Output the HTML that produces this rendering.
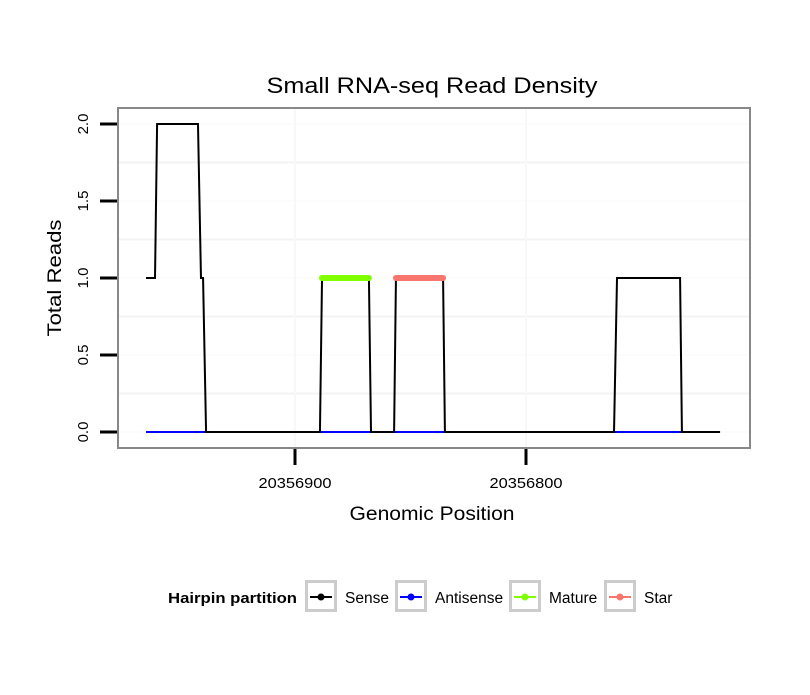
<!DOCTYPE html>
<html><head><meta charset="utf-8"><style>
body{margin:0;background:#fff;}
svg text{font-family:"Liberation Sans",sans-serif;}
</style></head><body>
<svg id="c" width="810" height="690" xmlns="http://www.w3.org/2000/svg">
<rect width="810" height="690" fill="#fff"/>
<text x="432" y="93" font-size="22" text-anchor="middle" textLength="331" lengthAdjust="spacingAndGlyphs">Small RNA-seq Read Density</text>
<g id="grid"></g>
<g id="series"></g>
<rect x="118" y="108" width="632" height="340" fill="none" stroke="#888" stroke-width="2"/>
<g id="axes"></g>
<text x="432" y="520" font-size="19" text-anchor="middle" textLength="165" lengthAdjust="spacingAndGlyphs">Genomic Position</text>
<text transform="translate(61,278) rotate(-90)" font-size="19" text-anchor="middle" textLength="117" lengthAdjust="spacingAndGlyphs">Total Reads</text>
<g>
<text x="168" y="603" font-size="15" font-weight="bold" textLength="129" lengthAdjust="spacingAndGlyphs">Hairpin partition</text>
<g id="legend"></g>
</g>
</svg>
<script>
const xPos = [20356964.5,20356960.6,20356959.7,20356942.0,20356940.7,20356939.8,20356938.5,20356889.2,20356888.3,20356868.0,20356867.1,20356857.1,20356856.3,20356835.9,20356835.1,20356761.9,20356760.6,20356733.3,20356732.5,20356716.0];
const senseVals = [1,1,2,2,1,1,0,0,1,1,0,0,1,1,0,0,1,1,0,0];
const antisenseX = [20356964.5,20356716.0];
const antisenseVals = [0,0];
const matureX = [20356888.3,20356868.0];
const matureVals = [1,1];
const starX = [20356856.3,20356835.9];
const starVals = [1,1];
const yTicks = [0,0.5,1,1.5,2];
const yTickLabels = ["0.0","0.5","1.0","1.5","2.0"];
const xTicks = [20356900,20356800];
const xTickLabels = ["20356900","20356800"];
const legendNames = ["Sense","Antisense","Mature","Star"];
const legendColors = ["#000","#0000ff","#7fff00","#f8766d"];

const NS="http://www.w3.org/2000/svg";
function X(p){return 295+(20356900-p)*2.31;}
function Y(v){return 432-v*154;}
function mk(tag,attrs,parent){const e=document.createElementNS(NS,tag);for(const k in attrs)e.setAttribute(k,attrs[k]);parent.appendChild(e);return e;}
const grid=document.getElementById('grid'),series=document.getElementById('series'),axes=document.getElementById('axes'),legend=document.getElementById('legend');
[0.25,0.75,1.25,1.75].forEach(v=>{const l=mk('line',{x1:119,x2:749,y1:Y(v),y2:Y(v),stroke:'#f3f3f3','stroke-width':2},grid);});
yTicks.forEach((v,i)=>{
 const g=mk('line',{x1:119,x2:749,y1:Y(v),y2:Y(v),stroke:'#f8f8f8','stroke-width':1},grid);
 const t=mk('line',{x1:100,x2:117,y1:Y(v),y2:Y(v),stroke:'#000','stroke-width':3},axes);
 const tx=mk('text',{transform:`translate(88,${Y(v)}) rotate(-90)`,'font-size':15,'text-anchor':'middle'},axes);tx.textContent=yTickLabels[i];
});
xTicks.forEach((p,i)=>{
 const g=mk('line',{x1:X(p),x2:X(p),y1:109,y2:447,stroke:'#f8f8f8','stroke-width':2},grid);
 const t=mk('line',{x1:X(p),x2:X(p),y1:449,y2:465,stroke:'#000','stroke-width':3},axes);
 const tx=mk('text',{x:X(p),y:488,'font-size':15,'text-anchor':'middle',textLength:73,lengthAdjust:'spacingAndGlyphs'},axes);tx.textContent=xTickLabels[i];
});
function line(xs,vs,color,w,name){
 const p=mk('polyline',{points:xs.map((x,i)=>X(x)+','+Y(vs[i])).join(' '),fill:'none',stroke:color,'stroke-width':w,'stroke-linecap':w>3?'round':'butt'},series);
 
}
line(antisenseX,antisenseVals,'#0000ff',2,'antisense-line');
line(xPos,senseVals,'#000',2,'sense-line');
line(matureX,matureVals,'#7fff00',6,'mature-line');
line(starX,starVals,'#f8766d',6,'star-line');
const lx=[305,395,509,604];
legendNames.forEach((n,i)=>{
 const g=mk('g',{},legend);
 mk('rect',{x:lx[i]+1.5,y:581.5,width:29,height:29,fill:'#fff',stroke:'#ccc','stroke-width':3},g);
 mk('line',{x1:lx[i]+5,x2:lx[i]+27,y1:597,y2:597,stroke:legendColors[i],'stroke-width':2},g);
 mk('circle',{cx:lx[i]+16,cy:597,r:3.5,fill:legendColors[i]},g);
 const t=mk('text',{x:lx[i]+40,y:603,'font-size':15.5},g);t.textContent=n;
});
</script>
</body></html>
